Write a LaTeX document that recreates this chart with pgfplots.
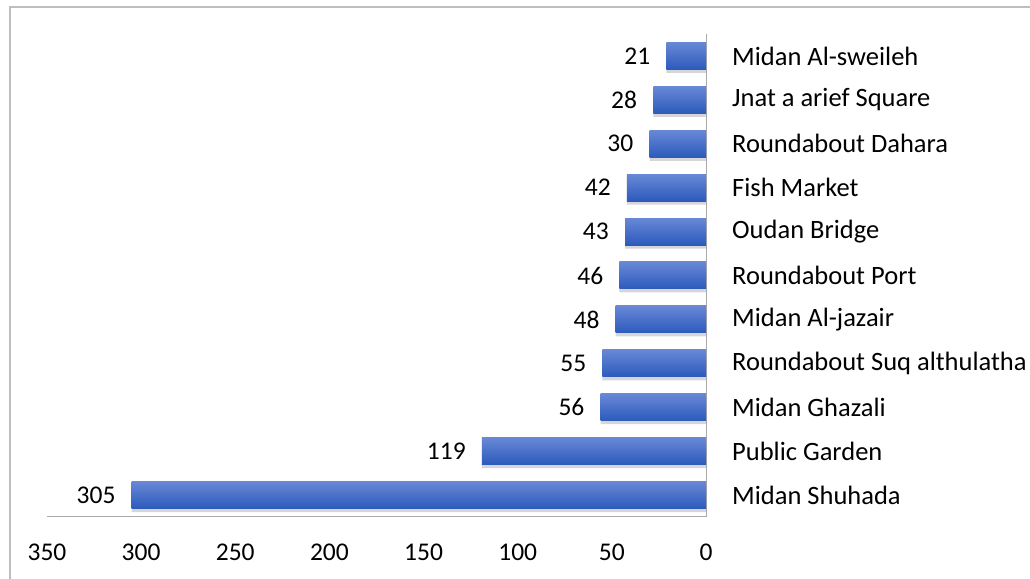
\documentclass[border=0pt]{standalone}
\usepackage{pgfplots}
\pgfplotsset{compat=1.18}
\usepackage{fontspec}
\setmainfont{Carlito}
\definecolor{bartop}{RGB}{104,136,214}
\definecolor{barmid}{RGB}{66,108,202}
\definecolor{barbot}{RGB}{44,90,188}
\definecolor{axgray}{RGB}{170,170,170}
\definecolor{framegray}{RGB}{190,190,190}
\pgfplotsset{
  mybar/.style={xbar, bar width=27bp, draw=none, top color=bartop, middle color=barmid, bottom color=barbot,
    nodes near coords,
    nodes near coords align={anchor=east},
    every node near coord/.append style={font=\fontsize{25.5bp}{30bp}\selectfont, text=black, inner sep=0pt, xshift=-16bp, anchor=east}},
  myshadow/.style={xbar, bar width=27bp, draw=none, fill=black, opacity=0.16, bar shift=-3.5bp, forget plot},
}
\begin{document}
\begin{tikzpicture}[x=1bp,y=1bp]
\path[use as bounding box] (-47,-62) rectangle (983,517);
\draw[framegray, line width=1.2bp] (-37,-62) -- (-37,510) -- (983,510);
\begin{axis}[
  at={(0,0)}, anchor=south west,
  width=659bp, height=483bp, scale only axis,
  x dir=reverse,
  xmin=0, xmax=350,
  ymin=-0.5, ymax=10.5,
  xtick={0,50,...,350},
  ytick={0,...,10},
  yticklabels={Midan Shuhada, Public Garden, Midan Ghazali, Roundabout Suq althulatha, Midan Al-jazair, Roundabout Port, Oudan Bridge, Fish Market, Roundabout Dahara, Jnat a arief Square, Midan Al-sweileh},
  axis line style={axgray, line width=1bp},
  axis x line*=bottom,
  axis y line*=right,
  major tick length=0pt,
  /pgf/number format/assume math mode=true,
  tick label style={font=\fontsize{25.5bp}{30bp}\selectfont, text=black, inner sep=0pt},
  xticklabel style={anchor=north, yshift=-27bp},
  yticklabel style={anchor=west, xshift=26bp, font=\fontsize{26.5bp}{30bp}\selectfont},
  clip=false,
]
\addplot[myshadow] coordinates {(305,0) (119,1) (56,2) (55,3) (48,4) (46,5) (43,6) (42,7) (30,8) (28,9) (21,10)};
\addplot[mybar] coordinates {(305,0)};
\addplot[mybar] coordinates {(119,1)};
\addplot[mybar] coordinates {(56,2)};
\addplot[mybar] coordinates {(55,3)};
\addplot[mybar] coordinates {(48,4)};
\addplot[mybar] coordinates {(46,5)};
\addplot[mybar] coordinates {(43,6)};
\addplot[mybar] coordinates {(42,7)};
\addplot[mybar] coordinates {(30,8)};
\addplot[mybar] coordinates {(28,9)};
\addplot[mybar] coordinates {(21,10)};
\end{axis}
\end{tikzpicture}
\end{document}
